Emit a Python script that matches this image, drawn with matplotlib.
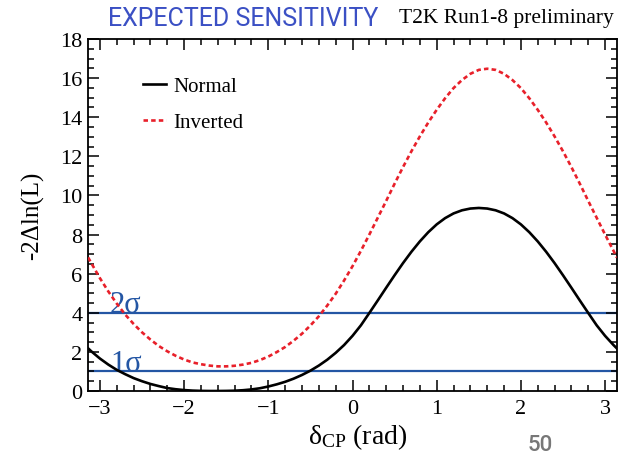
import matplotlib
matplotlib.use('Agg')
import matplotlib.pyplot as plt
import numpy as np
from matplotlib.ticker import MultipleLocator

plt.rcParams['font.family'] = ['Liberation Serif', 'DejaVu Serif']
plt.rcParams['mathtext.fontset'] = 'custom'
plt.rcParams['mathtext.rm'] = 'Liberation Serif'
plt.rcParams['mathtext.it'] = 'Liberation Serif:italic'

# delta_CP scan points (rad)
dcp = [-3.14, -3.1, -3.0, -2.9, -2.8, -2.7, -2.6, -2.5, -2.4, -2.3, -2.2,
       -2.1, -2.0, -1.9, -1.8, -1.7, -1.6, -1.5, -1.4, -1.3, -1.2,
       -1.1, -1.0, -0.9, -0.8, -0.7, -0.6, -0.5, -0.4, -0.3, -0.2,
       -0.1, 0.0, 0.1, 0.2, 0.3, 0.4, 0.5, 0.6, 0.7, 0.8,
       0.9, 1.0, 1.1, 1.2, 1.3, 1.4, 1.5, 1.6, 1.7, 1.8,
       1.9, 2.0, 2.1, 2.2, 2.3, 2.4, 2.5, 2.6, 2.7, 2.8,
       2.9, 3.0, 3.1, 3.14]

# -2 delta ln(L), normal hierarchy
dchi2_normal = [2.18, 2.02, 1.66, 1.35, 1.08, 0.86, 0.66, 0.5, 0.36, 0.25, 0.15,
                0.09, 0.047, 0.02, 0.006, 0.0, 0.0, 0.005, 0.015, 0.04, 0.08,
                0.14, 0.23, 0.34, 0.47, 0.63, 0.82, 1.04, 1.3, 1.6, 1.95,
                2.35, 2.82, 3.36, 3.99, 4.63, 5.28, 5.92, 6.54, 7.12, 7.65,
                8.12, 8.52, 8.84, 9.08, 9.24, 9.33, 9.36, 9.33, 9.24, 9.08,
                8.84, 8.52, 8.12, 7.65, 7.12, 6.54, 5.92, 5.28, 4.63, 3.99,
                3.36, 2.82, 2.35, 2.18]

# -2 delta ln(L), inverted hierarchy
dchi2_inverted = [6.83, 6.52, 5.77, 5.09, 4.47, 3.91, 3.43, 3.0, 2.63, 2.3, 2.03,
                  1.8, 1.61, 1.46, 1.37, 1.3, 1.26, 1.26, 1.29, 1.35, 1.44,
                  1.58, 1.76, 1.99, 2.25, 2.57, 2.93, 3.35, 3.82, 4.37, 4.97,
                  5.65, 6.38, 7.17, 8.0, 8.86, 9.72, 10.6, 11.45, 12.26, 13.02,
                  13.73, 14.38, 14.97, 15.49, 15.9, 16.22, 16.42, 16.48, 16.42, 16.22,
                  15.9, 15.49, 14.97, 14.38, 13.73, 13.02, 12.26, 11.45, 10.6, 9.72,
                  8.86, 8.0, 7.17, 6.83]

sigma_levels = [1, 4]
sigma_labels = ['1σ', '2σ']

blue = '#2456a4'

fig = plt.figure(figsize=(6.19, 4.6), dpi=100)
ax = fig.add_axes([88 / 619, 68 / 460, 529 / 619, 352 / 460])

for lev, lab in zip(sigma_levels, sigma_labels):
    ax.axhline(lev, color=blue, lw=1.6, zorder=1)
    ax.text(-2.88, lev + 0.02, lab, color=blue, fontsize=22, va='baseline', ha='left', zorder=2)

ax.plot(dcp, dchi2_normal, color='black', lw=1.9, label='Normal', zorder=3)
ax.plot(dcp, dchi2_inverted, color='#e8202a', lw=1.9, dashes=(1.7, 1.2), label='Inverted', zorder=3)

ax.set_xlim(-np.pi, np.pi)
ax.set_ylim(0, 18)
ax.xaxis.set_major_locator(MultipleLocator(1))
ax.xaxis.set_minor_locator(MultipleLocator(0.2))
ax.yaxis.set_major_locator(MultipleLocator(2))
ax.yaxis.set_minor_locator(MultipleLocator(0.5))
ax.tick_params(which='both', direction='in', top=True, right=True, width=1.1, labelsize=16)
ax.tick_params(which='major', length=8)
ax.tick_params(which='minor', length=4)
ax.tick_params(axis='x', pad=6)
ax.tick_params(axis='y', pad=4)
for s in ax.spines.values():
    s.set_linewidth(1.3)

ax.set_xlabel('δ$_{\\mathrm{CP}}$ (rad)', fontsize=20)
ax.xaxis.set_label_coords(0.51, -0.085)
ax.set_ylabel('-2Δln(L)', fontsize=18)
ax.yaxis.set_label_coords(-0.083, 0.5)

ax.legend(loc='upper left', bbox_to_anchor=(0.104, 0.893), frameon=False, fontsize=15,
          handlelength=1.1, handletextpad=0.35, labelspacing=0.8, borderpad=0, borderaxespad=0)

fig.text(108 / 619, 1 - 19 / 460, 'EXPECTED SENSITIVITY', family='Roboto', fontsize=18,
         color='#3b50c4', va='center', ha='left')
fig.text(614 / 619, 1 - 18 / 460, 'T2K Run1-8 preliminary', fontsize=15.5,
         color='black', va='center', ha='right')
fig.text(540 / 619, 1 - 446 / 460, '50', family='Roboto', fontsize=16, fontweight='medium',
         color='#777777', va='center', ha='center')

fig.savefig('out.png', dpi=100)
